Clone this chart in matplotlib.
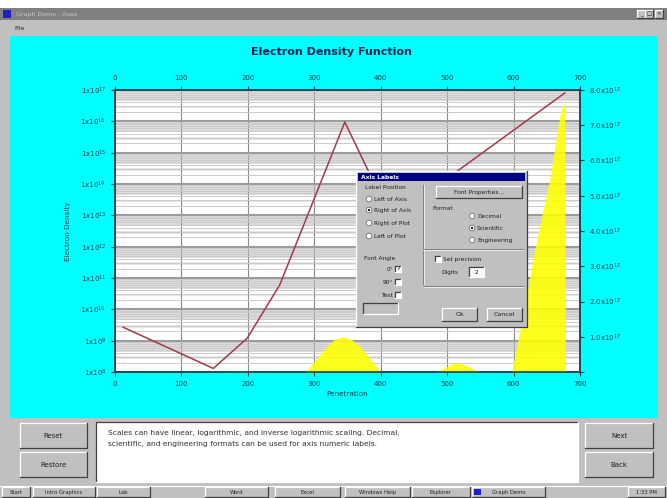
import matplotlib
matplotlib.use("Agg")
import matplotlib.pyplot as plt
from matplotlib.patches import Rectangle, Circle
from matplotlib.ticker import FixedLocator, NullLocator

# electron density along the sample (left axis, log scale)
position = [12, 148, 199, 248, 346, 416, 677]
density = [2.7e9, 1.3e8, 1.2e9, 6.0e10, 9.5e15, 7.6e12, 8.0e16]

# doping profile (right axis, linear scale)
dop_x = [150, 172, 186, 200, 215,
         287, 300, 315, 330, 343, 356, 370, 385, 400,
         484, 496, 506, 515, 526, 538, 550,
         597, 614, 629, 642, 655, 663, 670, 675, 677, 678]
dop_y = [0, 0.02e17, 0.03e17, 0.02e17, 0,
         0, 0.3e17, 0.65e17, 0.92e17, 1.0e17, 0.93e17, 0.7e17, 0.35e17, 0,
         0, 0.12e17, 0.22e17, 0.26e17, 0.21e17, 0.1e17, 0,
         0, 1.6e17, 3.2e17, 4.4e17, 5.5e17, 6.5e17, 7.3e17, 7.6e17, 7.6e17, 0]

x_ticks = [0, 100, 200, 300, 400, 500, 600, 700]
left_exps = list(range(8, 18))
right_ticks = [0, 1e17, 2e17, 3e17, 4e17, 5e17, 6e17, 7e17, 8e17]

title = "Electron Density Function"
help_lines = ["Scales can have linear, logarithmic, and inverse logarithmic scaling. Decimal,",
              "scientific, and engineering formats can be used for axis numeric labels."]

W, H = 667, 498
CYAN = "#00ffff"
GRAY = "#c0c0c0"
INK = "#123a4a"

fig = plt.figure(figsize=(W / 100, H / 100), dpi=100)

# ---- window chrome (pixel coordinates) ----
bg = fig.add_axes([0, 0, 1, 1], zorder=0)
bg.set_xlim(0, W)
bg.set_ylim(H, 0)
bg.axis("off")


def box(ax, x0, y0, x1, y1, fc, z=1):
    ax.add_patch(Rectangle((x0, y0), x1 - x0, y1 - y0, facecolor=fc,
                           edgecolor="none", lw=0, zorder=z))


def bevel(ax, x0, y0, x1, y1, fc=GRAY, z=2, sunken=False):
    box(ax, x0, y0, x1, y1, fc, z)
    hi, lo = ("#404040", "white") if sunken else ("white", "#404040")
    ax.plot([x0, x0, x1], [y1, y0, y0], color=hi, lw=0.9, zorder=z + 0.1)
    ax.plot([x0, x1, x1], [y1, y1, y0], color=lo, lw=0.9, zorder=z + 0.1)


def button(ax, x0, y0, x1, y1, label, z=2, size=4.5):
    bevel(ax, x0, y0, x1, y1, z=z)
    ax.text((x0 + x1) / 2, (y0 + y1) / 2, label, ha="center", va="center",
            fontsize=size, color="#202020", zorder=z + 0.2)


box(bg, 0, 0, W, H, GRAY, 0)
box(bg, 0, 0, W, 8, "white", 0.5)
box(bg, 0, 8, W, 20, "#808080", 1)
box(bg, 3, 10, 11, 18, "#2020c0", 1.5)
bg.text(16, 14, "Graph Demo - Axes", fontsize=4.5, color="#c8c8c8", va="center")
for bx, s in [(637, "_"), (645, "□"), (655, "×")]:
    button(bg, bx, 10, bx + 8, 18, s, size=4)
bg.text(14, 28, "File", fontsize=4.5, color="#303030", va="center")
box(bg, 10, 36, 658, 418, CYAN, 1)

# bottom control panel
button(bg, 20, 423, 87, 448, "Reset", size=5)
button(bg, 20, 452, 87, 477, "Restore", size=5)
button(bg, 585, 423, 653, 448, "Next", size=5)
button(bg, 585, 452, 653, 477, "Back", size=5)
bevel(bg, 96, 422, 578, 482, fc="white", sunken=True)
for i, line in enumerate(help_lines):
    bg.text(108, 433 + i * 11, line, fontsize=5.4, color="#303030", va="center", zorder=3)

# taskbar
box(bg, 0, 485, W, H, GRAY, 1)
bg.plot([0, W], [485.5, 485.5], color="white", lw=0.8, zorder=2)
tasks = [(2, 30, "Start"), (33, 95, "Intro Graphics"), (97, 150, "Lab"),
         (205, 268, "Word"), (275, 340, "Excel"), (345, 410, "Windows Help"),
         (412, 470, "Explorer"), (472, 545, "Graph Demo"), (628, 665, "1:33 PM")]
for x0, x1, s in tasks:
    button(bg, x0, 487, x1, 497, s, size=3.8)
box(bg, 474, 489, 481, 495, "#2020c0", 3)

# ---- chart ----
px0, px1, py0, py1 = 115, 580, 90, 372
ax = fig.add_axes([px0 / W, 1 - py1 / H, (px1 - px0) / W, (py1 - py0) / H], zorder=2)
ax.set_yscale("log")
ax.set_xlim(0, 700)
ax.set_ylim(1e8, 1e17)
ax.set_facecolor("white")

# banded background inside each decade
for e in left_exps[:-1]:
    ax.axhspan(4.5 * 10 ** e, 10 ** (e + 1), color="#dcdcdc", lw=0, zorder=0)
    ax.axhspan(2.6 * 10 ** e, 3.2 * 10 ** e, color="#e6e6e6", lw=0, zorder=0)
ax.yaxis.set_minor_locator(FixedLocator([m * 10 ** e for e in left_exps[:-1] for m in range(2, 10)]))
ax.grid(True, which="minor", axis="y", color="#cbcbcb", lw=0.7, zorder=0.5)
ax.grid(True, which="major", axis="y", color="#9c9c9c", lw=1.5, zorder=0.6)
ax.grid(True, which="major", axis="x", color="#8a8a8a", lw=0.8, zorder=0.6)

ax.plot(position, density, color="#a03a4a", lw=1.1, zorder=3)

ax.set_xticks(x_ticks)
ax.set_xticklabels([str(v) for v in x_ticks])
ax.set_yticks([10.0 ** e for e in left_exps])
ax.set_yticklabels([r"$\mathregular{1x10^{%d}}$" % e for e in left_exps])
ax.tick_params(axis="y", which="minor", length=0)
ax.tick_params(axis="both", which="major", labelsize=5, colors=INK, length=3, width=0.8)
ax.set_xlabel("Penetration", fontsize=5.2, color=INK, labelpad=3)
ax.set_ylabel("Electron Density", fontsize=5.2, color=INK, labelpad=7)

top = ax.secondary_xaxis("top")
top.set_xticks(x_ticks)
top.set_xticklabels([str(v) for v in x_ticks])
top.tick_params(labelsize=5, colors=INK, length=3, width=0.8)

axr = ax.twinx()
axr.set_ylim(0, 8e17)
axr.fill_between(dop_x, 0, dop_y, color="#ffff00", alpha=0.88, lw=0, zorder=2)
axr.set_yticks(right_ticks)
axr.set_yticklabels([""] + [r"$\mathregular{%.1fx10^{17}}$" % (v / 1e17) for v in right_ticks[1:]])
axr.yaxis.set_minor_locator(NullLocator())
axr.tick_params(axis="y", labelsize=5, colors=INK, length=3, width=0.8)

for a in (ax, axr):
    for sp in a.spines.values():
        sp.set_color("#1d4a58")
        sp.set_linewidth(1.2)
top.spines["top"].set_color("#1d4a58")
top.spines["top"].set_linewidth(1.2)

fig.text(331 / W, 1 - 52 / H, title, ha="center", va="center",
         fontsize=8, fontweight="bold", color="#0a2450", zorder=3)

# ---- axis label dialog on top of the chart ----
fg = fig.add_axes([0, 0, 1, 1], zorder=10)
fg.set_xlim(0, W)
fg.set_ylim(H, 0)
fg.axis("off")
fg.patch.set_visible(False)

bevel(fg, 356, 171, 527, 327, z=2)
box(fg, 358, 173, 525, 181, "#000080", 3)
fg.text(361, 177, "Axis Labels", fontsize=4.3, color="white", fontweight="bold", va="center", zorder=4)


def radio(x, y, label, on=False):
    fg.add_patch(Circle((x, y), 2.8, facecolor="white", edgecolor="#707070", lw=0.6, zorder=4))
    if on:
        fg.add_patch(Circle((x, y), 1.1, facecolor="black", zorder=5))
    fg.text(x + 5, y, label, fontsize=4.2, color="#202020", va="center", zorder=4)


def check(x, y, label="", on=False, left_label=False):
    bevel(fg, x - 3, y - 3, x + 3, y + 3, fc="white", z=4, sunken=True)
    if on:
        fg.text(x, y, "✓", fontsize=4, ha="center", va="center", zorder=5)
    if label:
        if left_label:
            fg.text(x - 5, y, label, fontsize=4.2, ha="right", va="center", color="#202020", zorder=4)
        else:
            fg.text(x + 5, y, label, fontsize=4.2, va="center", color="#202020", zorder=4)


fg.text(365, 187, "Label Position", fontsize=4.2, color="#202020", va="center", zorder=4)
radio(369, 199, "Left of Axis")
radio(369, 210, "Right of Axis", on=True)
radio(369, 223, "Right of Plot")
radio(369, 236, "Left of Plot")
fg.plot([423, 423], [185, 284], color="#808080", lw=0.7, zorder=3)
fg.plot([423.8, 423.8], [185, 284], color="white", lw=0.5, zorder=3)
button(fg, 436, 186, 522, 198, "Font Properties...", z=4, size=4.2)
fg.text(432, 208, "Format", fontsize=4.2, color="#202020", va="center", zorder=4)
radio(472, 216, "Decimal")
radio(472, 228, "Scientific", on=True)
radio(472, 240, "Engineering")
for yy in (249, 286):
    fg.plot([423, 523], [yy, yy], color="#808080", lw=0.7, zorder=3)
    fg.plot([423, 523], [yy + 0.8, yy + 0.8], color="white", lw=0.5, zorder=3)
check(438, 259, "Set precision")
fg.text(441, 272, "Digits", fontsize=4.2, color="#202020", va="center", zorder=4)
bevel(fg, 469, 267, 484, 277, fc="white", z=4, sunken=True)
fg.text(476, 272, "2", fontsize=4.2, ha="center", va="center", zorder=5)
fg.text(364, 258, "Font Angle", fontsize=4.2, color="#202020", va="center", zorder=4)
check(398, 269, "0°", on=True, left_label=True)
check(398, 282, "90°", left_label=True)
check(398, 295, "Text", left_label=True)
bevel(fg, 363, 303, 398, 314, fc=GRAY, z=4, sunken=True)
button(fg, 442, 308, 477, 321, "Ok", z=4)
button(fg, 487, 308, 522, 321, "Cancel", z=4)

fig.savefig("out.png", dpi=100)
